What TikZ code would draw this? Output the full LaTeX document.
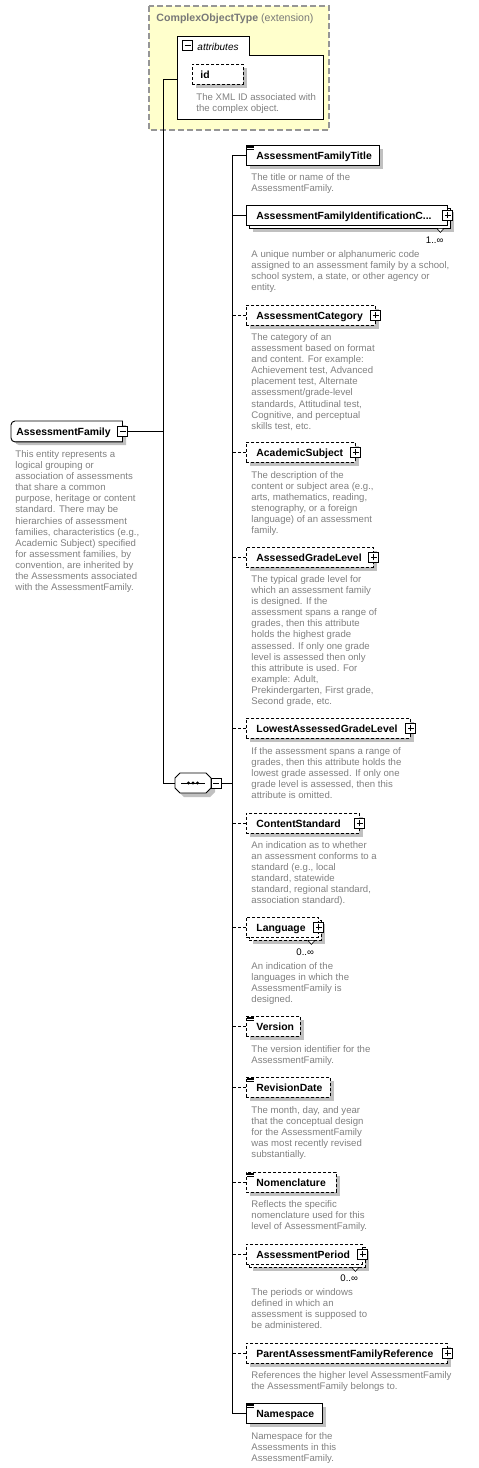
\documentclass[tikz,border=0pt]{standalone}
\usepackage{fontspec}
\setmainfont{Liberation Sans}
\usetikzlibrary{shadows}
\definecolor{desc}{RGB}{128,128,128}
\definecolor{shad}{RGB}{192,192,192}
\definecolor{cotfill}{RGB}{255,255,204}
\definecolor{cotline}{RGB}{150,150,150}
\definecolor{cottext}{RGB}{120,120,120}
\newcommand\descfont{\fontsize{9.6pt}{11.1pt}\selectfont}
\newcommand\elfont{\fontsize{10.4pt}{12pt}\selectfont\bfseries}
\newcommand\lab[3][10pt]{\makebox[#2][l]{\hspace{#1}\rule[-2.3pt]{0pt}{11.9pt}#3}}
\newcommand\minusat[1]{\draw[pm] ([shift={(-5pt,-5pt)}]#1) rectangle ([shift={(5pt,5pt)}]#1); \draw[pm] ([xshift=-3pt]#1) -- ([xshift=3pt]#1);}
\newcommand\plusat[1]{\minusat{#1}\draw[pm] ([yshift=-3pt]#1) -- ([yshift=3pt]#1);}
\newcommand\simpleicon[1]{\foreach \k in {1,2.5,4} {\draw[icon] ([shift={(1pt,-\k pt)}]#1.north west) -- +(7pt,0pt);}}
\newcommand\chevron[1]{\draw[chev] ([shift={(-11pt,-2.5pt)}]#1.south east) -- ([shift={(-4pt,-2.5pt)}]#1.south east) -- ([shift={(-7.5pt,-6.5pt)}]#1.south east) -- cycle;}
\begin{document}
\begin{tikzpicture}[x=1pt,y=-1pt, line width=0.9pt,
  elem/.style={draw=black, fill=white, inner sep=0pt, minimum height=20pt, anchor=north west, font=\elfont, drop shadow={shadow xshift=4pt, shadow yshift=-4pt, fill=shad, opacity=1}},
  elemns/.style={draw=black, fill=white, inner sep=0pt, minimum height=20pt, anchor=north west, font=\elfont},
  optl/.style={dash pattern=on 3pt off 2pt},
  desc/.style={anchor=north west, inner sep=0pt, align=left, font=\descfont, text=desc},
  mult/.style={anchor=east, inner sep=0pt, font=\descfont},
  pm/.style={draw=black, fill=white, line width=0.9pt},
  icon/.style={line width=0.5pt},
  chev/.style={draw=black, fill=white, line width=0.6pt},
  conn/.style={draw=black, line width=0.9pt},
  shd/.style={fill=shad, draw=none}]

\useasboundingbox (0,0) rectangle (479,1468);

% ComplexObjectType extension box
\draw[draw=cotline, fill=cotfill, line width=1.2pt, dash pattern=on 6pt off 3pt] (149,6) rectangle (329,130);
\node[anchor=base west, inner sep=0pt, text=cottext, font=\fontsize{10.6pt}{12pt}\selectfont] (cot) at (156,21) {\textbf{ComplexObjectType} (extension)};
\draw[fill=white, draw=black] (177,36) -- (249,36) -- (249,55) -- (323,55) -- (323,119) -- (177,119) -- cycle;
\coordinate (attm) at (187.5,45.5);
\node[anchor=base west, inner sep=0pt, font=\fontsize{10pt}{12pt}\selectfont\itshape] (attl) at (197,50) {attributes};
\node[elem, optl] (id) at (192,64) {\lab[8pt]{51pt}{id}};
\node[desc] (idd) at (196,93) {The XML ID associated with\\the complex object.};

% AssessmentFamily
\fill[shd, rounded corners=4pt] (126,445) -- (15,445) -- (15,425) -- (126,425);
\node[elemns, draw=none] (af) at (11,421) {\lab[5pt]{111pt}{AssessmentFamily}};
\draw[rounded corners=4pt] (af.north east) -- (af.north west) -- (af.south west) -- (af.south east);
\draw (af.north east) -- (af.south east);
\coordinate (afm) at (af.east);
\node[desc] (afd) at (15,450) {This entity represents a\\logical grouping or\\association of assessments\\that share a common\\purpose, heritage or content\\standard. There may be\\hierarchies of assessment\\families, characteristics (e.g.,\\Academic Subject) specified\\for assessment families, by\\convention, are inherited by\\the Assessments associated\\with the AssessmentFamily.};

% sequence
\fill[shd] (184,777) -- (210,777) -- (215,782) -- (215,792) -- (210,797) -- (184,797) -- (179,792) -- (179,782) -- cycle;
\node[inner sep=0pt, minimum width=36pt, minimum height=20pt] (seq) at (193,783) {};
\draw[fill=white] (180,773) -- (206,773) -- (211,778) -- (211,788) -- (206,793) -- (180,793) -- (175,788) -- (175,778) -- cycle;
\draw (181,783) -- (205,783);
\foreach \d in {188.5,193,197.5} {\fill (\d,783) circle (1.6pt);}
\coordinate (seqm) at (216,783);

% children
\node[elem] (c1) at (246,145) {\lab{133pt}{AssessmentFamilyTitle}};
\node[desc] (c1d) at (251,173) {The title or name of the\\AssessmentFamily.};

\node[elem] (c2b) at (249,208) {\lab{201pt}{}};
\node[elemns] (c2) at (246,205) {\lab{201pt}{AssessmentFamilyIdentificationC...}};
\node[mult] (c2m) at ([shift={(-4pt,-14pt)}]c2.south east) {1..∞};
\node[desc] (c2d) at (251,250) {A unique number or alphanumeric code\\assigned to an assessment family by a school,\\school system, a state, or other agency or\\entity.};

\node[elem, optl] (c3) at (246,305) {\lab{129pt}{AssessmentCategory}};
\node[desc] (c3d) at (251,333) {The category of an\\assessment based on format\\and content. For example:\\Achievement test, Advanced\\placement test, Alternate\\assessment/grade-level\\standards, Attitudinal test,\\Cognitive, and perceptual\\skills test, etc.};

\node[elem, optl] (c4) at (246,442) {\lab{109pt}{AcademicSubject}};
\node[desc] (c4d) at (251,471) {The description of the\\content or subject area (e.g.,\\arts, mathematics, reading,\\stenography, or a foreign\\language) of an assessment\\family.};

\node[elem, optl] (c5) at (246,547) {\lab{127pt}{AssessedGradeLevel}};
\node[desc] (c5d) at (251,575) {The typical grade level for\\which an assessment family\\is designed. If the\\assessment spans a range of\\grades, then this attribute\\holds the highest grade\\assessed. If only one grade\\level is assessed then only\\this attribute is used. For\\example: Adult,\\Prekindergarten, First grade,\\Second grade, etc.};

\node[elem, optl] (c6) at (246,718) {\lab{164pt}{LowestAssessedGradeLevel}};
\node[desc] (c6d) at (251,747) {If the assessment spans a range of\\grades, then this attribute holds the\\lowest grade assessed. If only one\\grade level is assessed, then this\\attribute is omitted.};

\node[elem, optl] (c7) at (246,813) {\lab{113pt}{ContentStandard}};
\node[desc] (c7d) at (251,841) {An indication as to whether\\an assessment conforms to a\\standard (e.g., local\\standard, statewide\\standard, regional standard,\\association standard).};

\node[elem, optl] (c8b) at (249,920) {\lab{72pt}{}};
\node[elemns, optl] (c8) at (246,917) {\lab{72pt}{Language}};
\node[mult] (c8m) at ([shift={(-4.5pt,-14pt)}]c8.south east) {0..∞};
\node[desc] (c8d) at (251,962) {An indication of the\\languages in which the\\AssessmentFamily is\\designed.};

\node[elem, optl] (c9) at (246,1016) {\lab{54pt}{Version}};
\node[desc] (c9d) at (251,1045) {The version identifier for the\\AssessmentFamily.};

\node[elem, optl] (c10) at (246,1077) {\lab{84pt}{RevisionDate}};
\node[desc] (c10d) at (251,1106) {The month, day, and year\\that the conceptual design\\for the AssessmentFamily\\was most recently revised\\substantially.};

\node[elem, optl] (c11) at (246,1172) {\lab{90pt}{Nomenclature}};
\node[desc] (c11d) at (251,1200) {Reflects the specific\\nomenclature used for this\\level of AssessmentFamily.};

\node[elem, optl] (c12b) at (249,1247) {\lab{116pt}{}};
\node[elemns, optl] (c12) at (246,1244) {\lab{116pt}{AssessmentPeriod}};
\node[mult] (c12m) at ([shift={(-4.5pt,-13pt)}]c12.south east) {0..∞};
\node[desc] (c12d) at (251,1288) {The periods or windows\\defined in which an\\assessment is supposed to\\be administered.};

\node[elem, optl] (c13) at (246,1343) {\lab{201pt}{ParentAssessmentFamilyReference}};
\node[desc] (c13d) at (251,1371) {References the higher level AssessmentFamily\\the AssessmentFamily belongs to.};

\node[elem] (c14) at (246,1403) {\lab{76pt}{Namespace}};
\node[desc] (c14d) at (251,1432) {Namespace for the\\Assessments in this\\AssessmentFamily.};

% connectors
\coordinate (attrW) at (177,79);
\coordinate (trunkA) at (163,79);
\coordinate (trunkB) at (232,783);
\draw[conn] (attrW) -- (trunkA) |- (seq.west);
\draw[conn] ([xshift=5pt]afm) -- (afm -| trunkA);
\draw[conn] ([xshift=5pt]seqm) -- (trunkB);
\draw[conn] (c1.west) -| (trunkB);
\draw[conn] (c14.west) -| (trunkB);
\draw[conn] (c2.west) -- (c2.west -| trunkB);
\foreach \c in {c3,c4,c5,c6,c7,c8,c9,c10,c11,c12,c13} {\draw[conn, optl] (\c.west) -- (\c.west -| trunkB);}

% icons and expanders
\minusat{attm}
\minusat{afm}
\minusat{seqm}
\plusat{c2.east}
\plusat{c3.east}
\plusat{c4.east}
\plusat{c5.east}
\plusat{c6.east}
\plusat{c7.east}
\plusat{c8.east}
\plusat{c12.east}
\plusat{c13.east}
\chevron{c2}
\chevron{c8}
\chevron{c12}
\simpleicon{c1}
\simpleicon{c9}
\simpleicon{c10}
\simpleicon{c11}
\simpleicon{c14}
\end{tikzpicture}
\end{document}
